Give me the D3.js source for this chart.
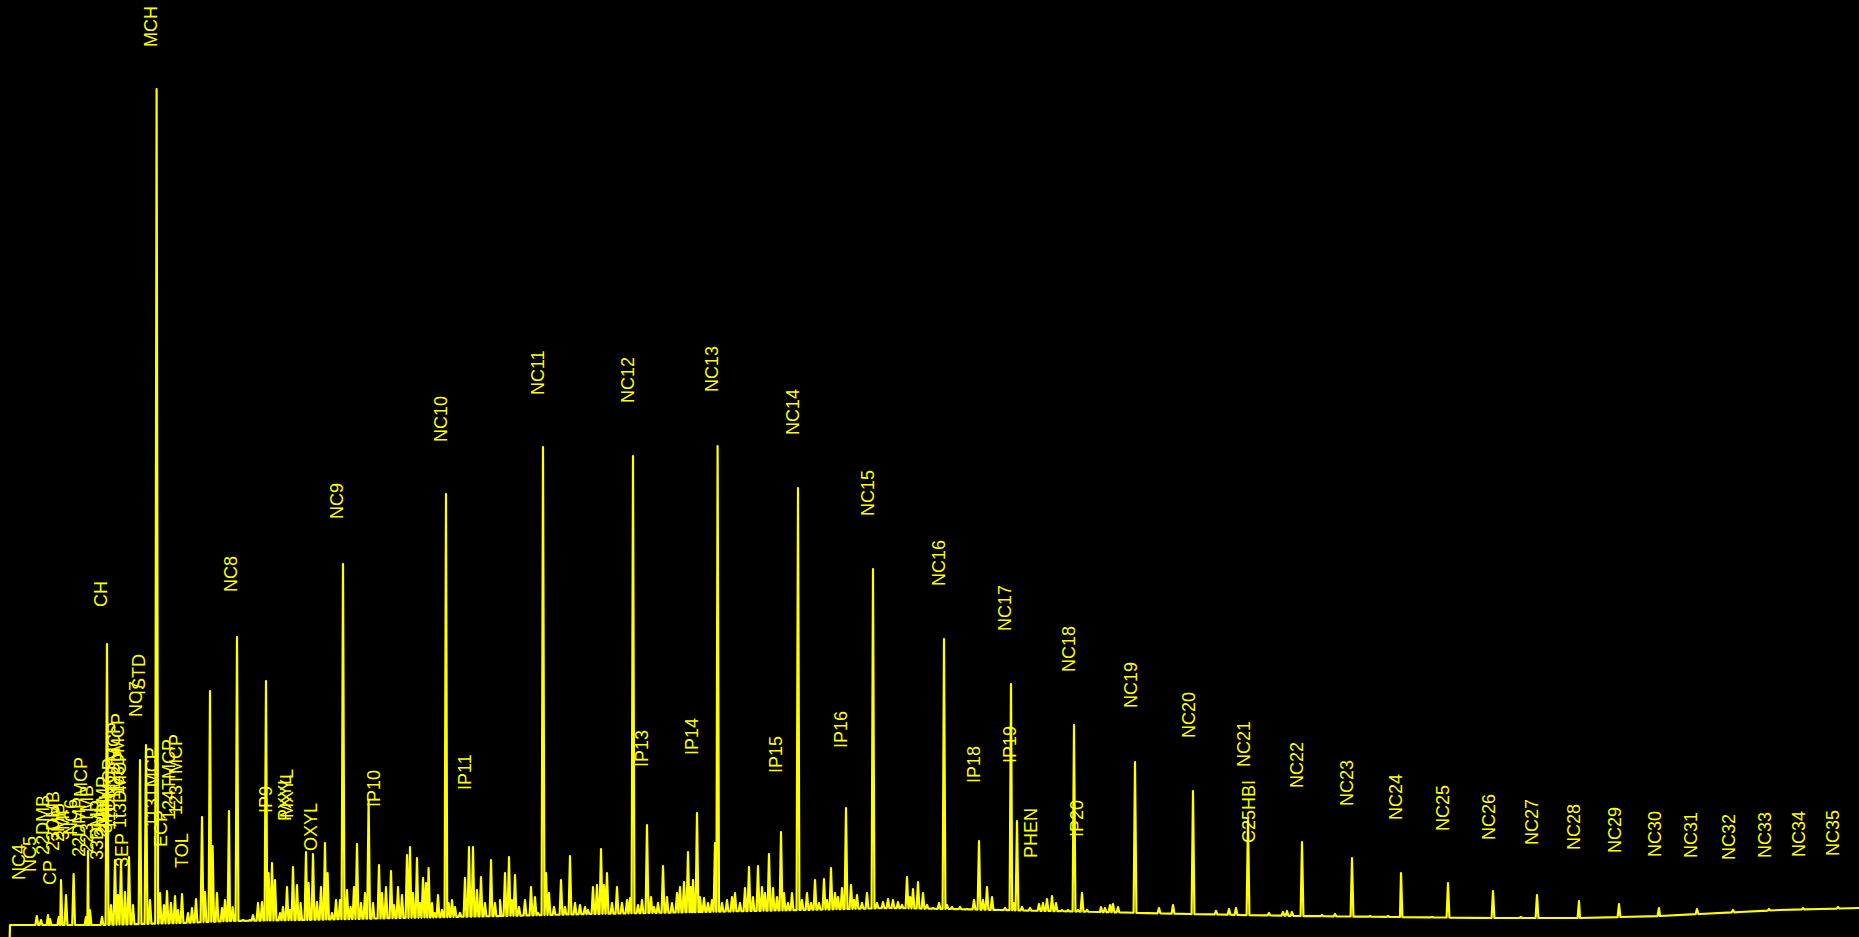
<!DOCTYPE html>
<html>
<head>
<meta charset="utf-8">
<script src="https://cdn.jsdelivr.net/npm/d3@7"></script>
<style>
    html, body { margin: 0; padding: 0; background: #000; overflow: hidden; }
    svg { display: block; background: #000; }
    .trace { fill: none; stroke: #ffff00; stroke-width: 2.2; stroke-linejoin: round; }
    .peak-label { fill: #ffff00; font-family: "Liberation Sans", Arial, sans-serif; font-size: 18px; }
</style>
</head>
<body>
<svg id="chrom" width="1859" height="937"></svg>
<script>
(function () {
    "use strict";

    // Baseline drift of the detector signal (retention time in min, signal)
    const baselineTimes  = [0.45, 0.5, 5.0, 9.0, 11.5, 15.0, 20.0, 25.0, 29.5, 35.0, 40.0, 44.5, 47.5, 50.0, 55.0, 59.5, 65.0, 70.0, 74.5, 79.0, 83.0, 85.0, 87.0, 89.0, 91.0, 92.95];
    const baselineSignal = [-40,  0,   0,   2,   4,    5,    7,    9,    11,   13,   15,   17,   16,   15,   13,   11,   9,    8,    7,    7,    9,    11,   13,   15,   16,   17];

    // Peak apexes (retention time in min, apex signal)
    const peakTimes = [
        1.84, 2.05, 2.40, 2.50, 2.94, 3.05, 3.30, 3.68, 4.30, 4.40, 4.50, 5.10, 5.35, 5.55, 5.75, 5.90, 6.05, 6.25, 6.45, 6.65,
        7.00, 7.30, 7.50, 7.83, 8.00, 8.20, 8.35, 8.55, 8.75, 8.90, 9.10, 9.40, 9.60, 9.80,
        10.10, 10.25, 10.50, 10.63, 10.85, 11.10, 11.25, 11.45, 11.63, 11.85, 12.15, 12.50, 12.65, 12.90, 13.10, 13.30, 13.43, 13.60,
        13.75, 14.00, 14.15, 14.35, 14.50, 14.65, 14.85, 15.03, 15.30, 15.43, 15.65, 15.85, 16.05, 16.25, 16.38, 16.60, 16.80, 17.00,
        17.15, 17.35, 17.53, 17.70, 17.85, 18.05, 18.25, 18.43, 18.65, 18.95, 19.10, 19.30, 19.55, 19.70, 19.90,
        20.10, 20.35, 20.50, 20.65, 20.85, 21.00, 21.15, 21.30, 21.43, 21.60, 21.73, 21.90, 22.10, 22.30, 22.43, 22.60, 22.75, 23.00,
        23.25, 23.45, 23.65, 23.85, 24.05, 24.25, 24.55, 24.75, 25.00, 25.25, 25.45, 25.60, 25.75, 25.95, 26.25, 26.55, 26.75, 26.90,
        27.15, 27.30, 27.45, 27.70, 28.05, 28.25, 28.50, 28.75, 29.00, 29.25,
        29.40, 29.65, 29.85, 30.05, 30.20, 30.35, 30.60, 30.85, 31.10, 31.35, 31.50, 31.65, 31.90, 32.10, 32.35, 32.55, 32.70, 32.90,
        33.15, 33.35, 33.60, 33.85, 34.00, 34.20, 34.40, 34.55, 34.65, 34.85, 35.00, 35.20, 35.40, 35.60, 35.75, 35.88, 36.10, 36.35,
        36.60, 36.75, 37.00, 37.25, 37.45, 37.65, 37.90, 38.10, 38.25, 38.45, 38.65, 38.85, 39.05, 39.20, 39.40, 39.60, 39.90, 40.10,
        40.35, 40.55, 40.75, 40.95, 41.20, 41.35, 41.55, 41.75, 41.90, 42.10, 42.30, 42.55, 42.70, 42.85, 43.10, 43.35, 43.65, 43.85, 44.15,
        44.40, 44.65, 44.90, 45.10, 45.35, 45.50, 45.65, 45.90, 46.15, 46.35, 46.65, 46.95, 47.20, 47.35, 47.60, 48.00, 48.35, 48.70,
        48.95, 49.15, 49.35, 49.60, 49.85, 50.25, 50.55, 50.68, 50.85, 51.10, 51.50, 51.95, 52.15, 52.35, 52.60, 52.80, 53.10, 53.40,
        53.70, 53.90, 54.10, 54.35, 55.05, 55.25, 55.50, 55.65, 55.90, 56.75, 57.95, 58.65,
        59.65, 60.80, 61.45, 61.80, 62.40, 63.45, 64.15, 64.35, 64.60, 65.10, 66.10, 66.75, 67.60, 68.50, 69.40, 70.05, 71.60, 72.40,
        73.85, 74.65, 76.05, 76.85, 78.95, 80.95, 82.95, 84.85, 86.65, 88.45, 90.15, 91.90
    ];
    const peakSignal = [
        9, 5, 10, 6, 8, 45, 30, 51, 8, 74, 15, 8, 281, 20, 65, 30, 65, 33, 68, 20,
        165, 180, 25, 836, 32, 20, 34, 22, 29, 15, 31, 12, 17, 26,
        108, 33, 234, 79, 32, 17, 25, 114, 18, 288, 5, 5, 10, 22, 23, 244, 52, 62,
        45, 12, 18, 38, 15, 58, 40, 22, 73, 42, 71, 23, 38, 82, 52, 12, 25, 25,
        361, 35, 18, 38, 81, 22, 32, 125, 22, 60, 32, 38, 54, 20, 38,
        30, 70, 78, 32, 67, 22, 47, 42, 57, 22, 12, 30, 15, 431, 22, 25, 18, 12,
        47, 78, 78, 35, 48, 22, 65, 22, 25, 52, 68, 25, 50, 18, 25, 38, 28, 12,
        478, 52, 32, 18, 45, 18, 69, 22, 20, 18,
        15, 38, 40, 76, 40, 52, 22, 38, 22, 25, 27, 469, 20, 25, 100, 28, 18, 22,
        59, 28, 22, 32, 38, 43, 73, 38, 45, 112, 28, 27, 22, 25, 82, 479, 22, 25,
        28, 32, 22, 37, 58, 28, 59, 38, 32, 71, 37, 28, 93, 32, 22, 32, 437, 25,
        32, 22, 45, 22, 46, 25, 57, 32, 28, 37, 117, 40, 25, 30, 22, 32, 356, 22, 23,
        26, 25, 23, 20, 48, 28, 36, 43, 32, 20, 17, 22, 286, 20, 18, 18, 16, 25,
        84, 25, 38, 28, 15, 17, 241, 22, 104, 18, 17, 21, 22, 26, 29, 22, 15, 15,
        200, 15, 32, 15, 18, 17, 20, 21, 18, 163, 17, 20,
        134, 14, 16, 17, 105, 12, 13, 14, 13, 83, 10, 11, 67, 9, 9, 52, 8, 42,
        7, 34, 8, 30, 24, 21, 17, 16, 15, 16, 17, 18
    ];

    // Peak annotations (name, retention time in min, signal level where the label starts)
    const labelNames = [
        "NC4", "NC5", "22DMB", "CP", "23DMB", "2MP", "3MP", "NC6", "22DMP", "MCP", "223TMB", "33DMP", "CH", "2MH", "23DMP", "3MH",
        "11DMCP", "1t2DMCP", "1c3DMCP", "1t3DMCP", "3EP", "NC7", "ISTD", "MCH", "113TMCP", "ECP", "124TMCP", "123TMCP", "TOL",
        "NC8", "IP9", "PXYL", "MXYL", "OXYL", "NC9", "IP10", "NC10", "IP11", "NC11", "NC12", "IP13", "IP14", "NC13", "IP15", "NC14",
        "IP16", "NC15", "NC16", "IP18", "NC17", "IP19", "PHEN", "NC18", "IP20", "NC19", "NC20", "NC21", "C25HBI", "NC22", "NC23",
        "NC24", "NC25", "NC26", "NC27", "NC28", "NC29", "NC30", "NC31", "NC32", "NC33", "NC34", "NC35"
    ];
    const labelTimes = [
        1.25, 1.80, 2.45, 2.80, 2.95, 3.20, 3.45, 3.85, 4.25, 4.35, 4.65, 5.15, 5.35, 5.35, 5.45, 5.60,
        5.75, 6.00, 6.20, 6.30, 6.40, 7.10, 7.25, 7.85, 7.90, 8.35, 8.75, 9.10, 9.40,
        11.85, 13.60, 14.55, 14.65, 15.85, 17.15, 19.00, 22.35, 23.55, 27.20, 31.70, 32.40, 34.90, 35.90, 39.10, 39.95,
        42.35, 43.70, 47.25, 49.00, 50.55, 50.80, 51.85, 53.75, 54.15, 56.85, 59.75, 62.50, 62.75, 65.15, 67.65,
        70.10, 72.45, 74.75, 76.90, 79.00, 81.05, 83.05, 84.85, 86.75, 88.55, 90.25, 91.95
    ];
    const labelLevels = [
        45, 53, 70, 40, 74, 83, 85, 90, 68, 128, 72, 65, 318, 87, 89, 92,
        95, 125, 130, 97, 58, 208, 230, 878, 98, 78, 105, 110, 57,
        333, 112, 104, 107, 74, 406, 118, 483, 135, 530, 522, 158, 170, 533, 152, 490,
        177, 409, 339, 142, 294, 162, 67, 253, 88, 217, 187, 158, 82, 137, 119,
        105, 94, 85, 80, 75, 72, 68, 67, 65, 67, 68, 69
    ];

    const W = 1859;
    const H = 937;
    const PEAK_HW = 0.07; // half width of a peak foot, minutes

    const svg = d3.select("#chrom");

    const x = d3.scaleLinear().domain([0, 92.95]).range([0, W]);
    const y = d3.scaleLinear().domain([0, 925]).range([925, 0]);
    // baseline level at any retention time (piecewise between read points)
    const base = d3.scaleLinear().domain(baselineTimes).range(baselineSignal).clamp(true);

    // build trace: baseline points + each peak as foot/apex/foot
    const pts = baselineTimes.map((t, i) => [t, baselineSignal[i]]);
    peakTimes.forEach(function (t, i) {
        pts.push([t - PEAK_HW, base(t - PEAK_HW)]);
        pts.push([t, peakSignal[i]]);
        pts.push([t + PEAK_HW, base(t + PEAK_HW)]);
    });
    pts.sort((a, b) => a[0] - b[0]);

    const line = d3.line()
        .x((d) => x(d[0]))
        .y((d) => y(d[1]));

    svg.append("path")
        .attr("class", "trace")
        .attr("d", line(pts));

    // rotated compound labels
    svg.selectAll(".peak-label")
        .data(labelNames.map((n, i) => ({ name: n, t: labelTimes[i], level: labelLevels[i] })))
        .enter()
        .append("text")
        .attr("class", "peak-label")
        .attr("transform", (d) => `translate(${x(d.t)},${y(d.level)}) rotate(-90)`)
        .attr("text-anchor", "start")
        .text((d) => d.name);
})();
</script>
</body>
</html>
